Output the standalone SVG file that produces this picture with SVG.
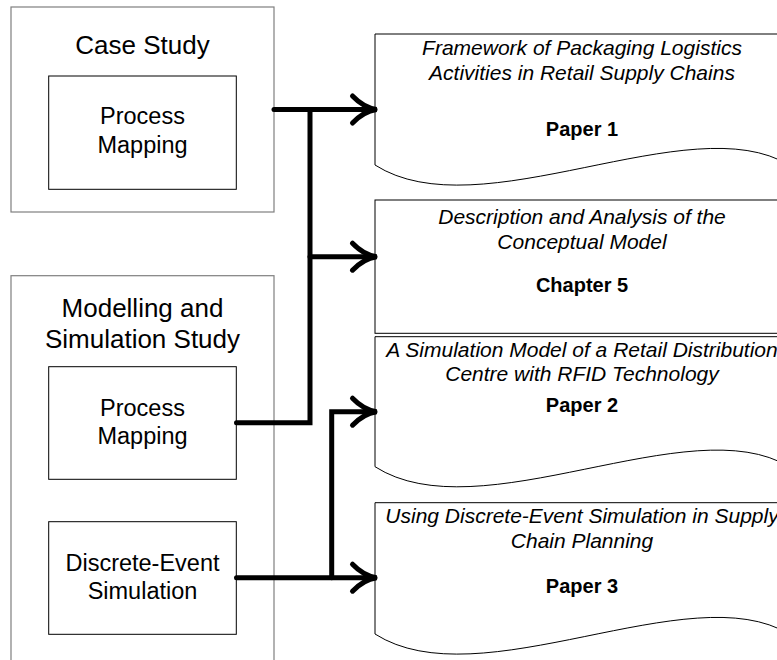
<svg xmlns="http://www.w3.org/2000/svg" width="777" height="660" viewBox="0 0 777 660">
<style>
.outer{fill:#fff;stroke:#7f7f7f;stroke-width:1.2}
.inner{fill:#fff;stroke:#000;stroke-width:1}
.doc{fill:#fff;stroke:#000;stroke-width:1}
.h{font-family:"Liberation Sans",Arial,sans-serif;font-size:26px;text-anchor:middle;fill:#000}
.s{font-family:"Liberation Sans",Arial,sans-serif;font-size:23.5px;text-anchor:middle;fill:#000}
.t{font-family:"Liberation Sans",Arial,sans-serif;font-size:21px;font-style:italic;text-anchor:middle;fill:#000}
.b{font-family:"Liberation Sans",Arial,sans-serif;font-size:20px;font-weight:bold;text-anchor:middle;fill:#000}
.c{fill:none;stroke:#000;stroke-width:5;stroke-linecap:round;stroke-linejoin:miter}
</style>
<defs>
<path id="ah" d="M-24,-13.5 Q-13,-2 0,0 Q-13,2 -24,13.5"/>
</defs>
<rect width="777" height="660" fill="#fff"/>
<g id="case-study">
<rect class="outer" x="11" y="7" width="263" height="205"/>
<text class="h" x="142.5" y="54.3">Case Study</text>
</g>
<g id="process-mapping-1">
<rect class="inner" x="48.7" y="76" width="187.6" height="113.3"/>
<text class="s" x="142.5" y="124.3">Process</text>
<text class="s" x="142.5" y="153.3">Mapping</text>
</g>
<g id="modelling-study">
<rect class="outer" x="11" y="275.7" width="263" height="420"/>
<text class="h" x="142.5" y="316.7">Modelling and</text>
<text class="h" x="142.5" y="348.3">Simulation Study</text>
</g>
<g id="process-mapping-2">
<rect class="inner" x="48.7" y="366.7" width="187.6" height="112.6"/>
<text class="s" x="142.5" y="415.7">Process</text>
<text class="s" x="142.5" y="444">Mapping</text>
</g>
<g id="des">
<rect class="inner" x="48.7" y="521.7" width="187.6" height="112.6"/>
<text class="s" x="142.5" y="570.7">Discrete-Event</text>
<text class="s" x="142.5" y="599.3">Simulation</text>
</g>
<g id="paper1">
<path class="doc" d="M375,34 V165 C480,232 690,105 789,165 V34 Z"/>
<text class="t" x="582" y="55">Framework of Packaging Logistics</text>
<text class="t" x="582" y="80">Activities in Retail Supply Chains</text>
<text class="b" x="582" y="135.7">Paper 1</text>
</g>
<g id="chapter5">
<rect class="doc" x="375" y="200" width="414" height="133.3"/>
<text class="t" x="582" y="224">Description and Analysis of the</text>
<text class="t" x="582" y="249">Conceptual Model</text>
<text class="b" x="582" y="292">Chapter 5</text>
</g>
<g id="paper2">
<path class="doc" d="M375,336.7 V466.7 C480,533.7 690,406.7 789,466.7 V336.7 Z"/>
<text class="t" x="582" y="356.7">A Simulation Model of a Retail Distribution</text>
<text class="t" x="582" y="381">Centre with RFID Technology</text>
<text class="b" x="582" y="411.5">Paper 2</text>
</g>
<g id="paper3">
<path class="doc" d="M375,502.7 V634 C480,701 690,574 789,634 V502.7 Z"/>
<text class="t" x="582" y="523.3">Using Discrete-Event Simulation in Supply</text>
<text class="t" x="582" y="548.3">Chain Planning</text>
<text class="b" x="582" y="593.3">Paper 3</text>
</g>
<g id="connectors">
<path class="c" d="M274,109.5 H375"/>
<path class="c" d="M310,109.5 V422.7 H236.5"/>
<path class="c" d="M310,256.7 H375"/>
<path class="c" d="M236.5,577.7 H375"/>
<path class="c" d="M331.7,577.7 V411.7 H375"/>
<use href="#ah" class="c" transform="translate(376.5,109.5)"/>
<use href="#ah" class="c" transform="translate(376.5,256.7)"/>
<use href="#ah" class="c" transform="translate(376.5,411.7)"/>
<use href="#ah" class="c" transform="translate(376.5,577.7)"/>
</g>
</svg>
